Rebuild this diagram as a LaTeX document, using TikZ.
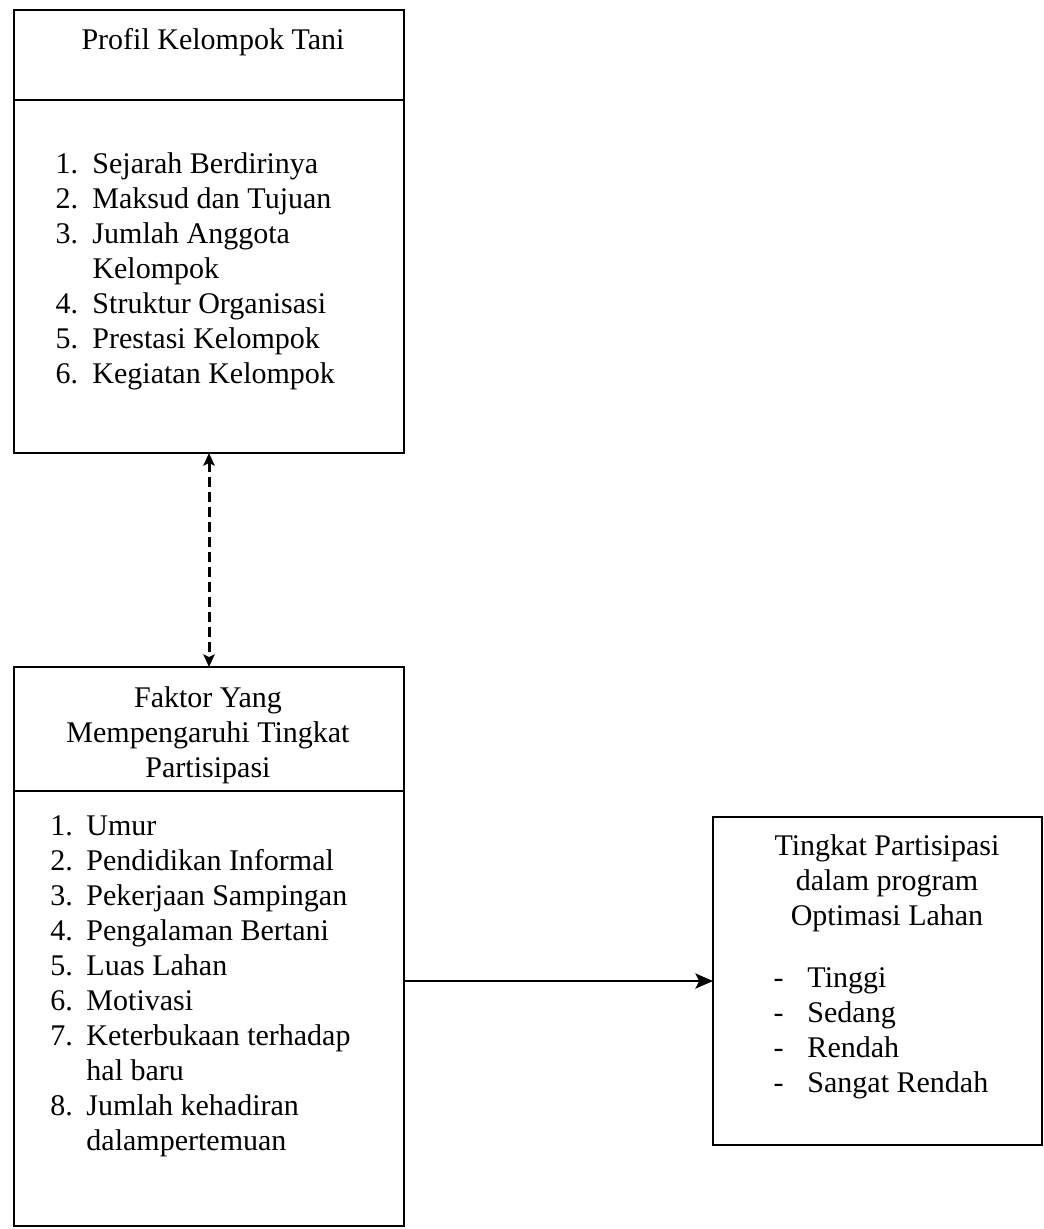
\documentclass[tikz,border=0pt]{standalone}
\usepackage{fontspec}
\setmainfont{Liberation Serif}
\usepackage{tikz}
\usetikzlibrary{positioning,arrows.meta}

\begin{document}
\begin{tikzpicture}[x=0.4pt,y=-0.4pt,
  kotak/.style={draw,line width=1.1pt,inner sep=0pt,outer sep=0pt,minimum width=156pt},
  judul/.style={font=\fontsize{12}{14}\selectfont,inner sep=0pt,align=center},
  daftar/.style={font=\fontsize{12}{14}\selectfont,inner sep=0pt,align=left,anchor=north west},
  a/.style={-{Stealth[length=7pt,width=6pt,inset=1.5pt]},line width=1.1pt},
  da/.style={{Stealth[length=5pt,width=4.5pt,inset=1pt]}-{Stealth[length=5pt,width=4.5pt,inset=1pt]},line width=1.2pt,dash pattern=on 4pt off 2pt}]
  \useasboundingbox (0,0) rectangle (1044,1229);
  \fill[white] (0,0) rectangle (1044,1229);
  \node[kotak,minimum height=36pt,anchor=north] (profil) at (209,10) {};
  \node[kotak,minimum height=141.2pt,below=0pt of profil] (profilisi) {};
  \node[judul,anchor=base] (profiljudul) at (213,49) {Profil Kelompok Tani};
  \node[daftar] (profildaftar) at (55,148.5) {\strut\makebox[14.8pt][l]{1.}Sejarah Berdirinya\\
    \makebox[14.8pt][l]{2.}Maksud dan Tujuan\\
    \makebox[14.8pt][l]{3.}Jumlah Anggota\\
    \hspace*{14.8pt}Kelompok\\
    \makebox[14.8pt][l]{4.}Struktur Organisasi\\
    \makebox[14.8pt][l]{5.}Prestasi Kelompok\\
    \makebox[14.8pt][l]{6.}Kegiatan Kelompok};
  \node[kotak,minimum height=49.6pt,anchor=north] (faktor) at (209,667) {};
  \node[kotak,minimum height=174pt,below=0pt of faktor] (faktorisi) {};
  \node[judul,anchor=north] (faktorjudul) at (208,682.5) {\strut Faktor Yang\\Mempengaruhi Tingkat\\Partisipasi};
  \node[daftar] (faktordaftar) at (50,810.5) {\strut\makebox[14.4pt][l]{1.}Umur\\
    \makebox[14.4pt][l]{2.}Pendidikan Informal\\
    \makebox[14.4pt][l]{3.}Pekerjaan Sampingan\\
    \makebox[14.4pt][l]{4.}Pengalaman Bertani\\
    \makebox[14.4pt][l]{5.}Luas Lahan\\
    \makebox[14.4pt][l]{6.}Motivasi\\
    \makebox[14.4pt][l]{7.}Keterbukaan terhadap\\
    \hspace*{14.4pt}hal baru\\
    \makebox[14.4pt][l]{8.}Jumlah kehadiran\\
    \hspace*{14.4pt}dalampertemuan};
  \node[kotak,minimum width=131.6pt,minimum height=131.2pt,anchor=north west] (hasil) at (713,817) {};
  \node[judul,anchor=north] (hasiljudul) at (887,830.5) {\strut Tingkat Partisipasi\\dalam program\\Optimasi Lahan};
  \node[daftar] (hasildaftar) at (773,962.5) {\strut\makebox[13.6pt][l]{-}Tinggi\\
    \makebox[13.6pt][l]{-}Sedang\\
    \makebox[13.6pt][l]{-}Rendah\\
    \makebox[13.6pt][l]{-}Sangat Rendah};
  \draw[da] (profilisi.south) -- (faktor.north);
  \draw[a] (faktorisi.east |- hasil.west) -- (hasil.west);
\end{tikzpicture}
\end{document}
